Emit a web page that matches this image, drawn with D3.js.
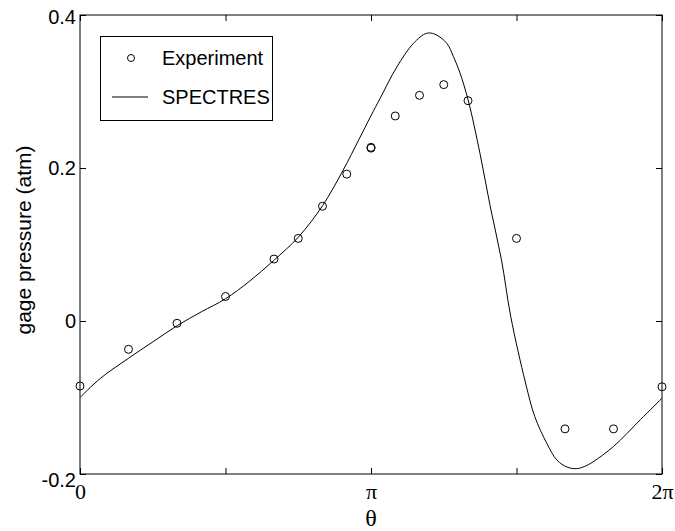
<!DOCTYPE html>
<html><head><meta charset="utf-8">
<script src="https://cdn.jsdelivr.net/npm/d3@7"></script>
<style>body{margin:0;background:#fff}svg{display:block}</style>
</head><body>
<svg id="c" width="675" height="531"></svg>
<script>
const PI = Math.PI;
// Experiment data (theta in radians, gage pressure in atm)
const expTheta = [0, PI/6, PI/3, PI/2, 2*PI/3, 3*PI/4, 5*PI/6, 11*PI/12, PI, PI, 13*PI/12, 7*PI/6, 5*PI/4, 4*PI/3, 3*PI/2, 5*PI/3, 11*PI/6, 2*PI];
const expPressure = [-0.085, -0.037, -0.003, 0.032, 0.081, 0.108, 0.150, 0.192, 0.226, 0.227, 0.268, 0.295, 0.309, 0.288, 0.108, -0.141, -0.141, -0.086];
// SPECTRES curve
const simTheta = [0, 0.22, 0.52, 0.79, 1.05, 1.31, 1.57, 1.83, 2.09, 2.36, 2.62, 2.84, 3.01, 3.14, 3.24, 3.42, 3.60, 3.74, 3.83, 3.96, 4.03, 4.10, 4.19, 4.32, 4.43, 4.55, 4.65, 4.81, 4.91, 5.04, 5.15, 5.26, 5.36, 5.45, 5.54, 5.76, 6.05, 6.283];
const simPressure = [-0.100, -0.075, -0.049, -0.027, -0.006, 0.012, 0.029, 0.052, 0.079, 0.110, 0.151, 0.197, 0.237, 0.268, 0.291, 0.332, 0.363, 0.376, 0.375, 0.363, 0.346, 0.325, 0.289, 0.218, 0.149, 0.080, 0.006, -0.081, -0.125, -0.160, -0.182, -0.191, -0.193, -0.190, -0.184, -0.164, -0.129, -0.101];
const xTicks = [0, PI/2, PI, 3*PI/2, 2*PI];
const xTickLabels = ["0", "", "π", "", "2π"];
const yTicks = [-0.2, 0, 0.2, 0.4];
const yTickLabels = ["-0.2", "0", "0.2", "0.4"];
const legendLabels = ["Experiment", "SPECTRES"];

const svg = d3.select("#c");
const L = 80, R = 662, T = 15, B = 474;
const x = d3.scaleLinear().domain([0, 2*PI]).range([L, R]);
const y = d3.scaleLinear().domain([-0.2, 0.4]).range([B, T]);
const SANS = "Arial, 'Liberation Sans', sans-serif";
const SERIF = "'Times New Roman', 'Liberation Serif', serif";

// frame
svg.append("rect").attr("x", L).attr("y", T).attr("width", R-L).attr("height", B-T)
  .attr("fill", "none").attr("stroke", "#000").attr("stroke-width", 1);

const tl = 6;
// bottom axis
const gB = svg.append("g").attr("transform", `translate(0,${B})`)
  .call(d3.axisBottom(x).tickValues(xTicks).tickSize(-tl).tickPadding(9).tickFormat((d,i)=>xTickLabels[i]));
gB.select(".domain").remove();
gB.selectAll("text").attr("font-family", SERIF).attr("font-size", 22).attr("fill","#000");
gB.selectAll("line").attr("stroke","#000");
// top axis
const gT = svg.append("g").attr("transform", `translate(0,${T})`)
  .call(d3.axisTop(x).tickValues(xTicks).tickSize(-tl).tickFormat(""));
gT.select(".domain").remove();
gT.selectAll("line").attr("stroke","#000");
// left axis
const gL = svg.append("g").attr("transform", `translate(${L},0)`)
  .call(d3.axisLeft(y).tickValues(yTicks).tickSize(-tl).tickPadding(4).tickFormat((d,i)=>yTickLabels[i]));
gL.select(".domain").remove();
gL.selectAll("text").attr("font-family", SANS).attr("font-size", 20).attr("fill","#000");
gL.selectAll("line").attr("stroke","#000");
gL.selectAll(".tick").filter(d => d === -0.2).select("text").attr("dy", "0.6em");
gL.selectAll(".tick").filter(d => d === 0.4).select("text").attr("dy", "0.4em");
// right axis
const gR = svg.append("g").attr("transform", `translate(${R},0)`)
  .call(d3.axisRight(y).tickValues(yTicks).tickSize(-tl).tickFormat(""));
gR.select(".domain").remove();
gR.selectAll("line").attr("stroke","#000");

// axis titles
svg.append("text").attr("x", (L+R)/2).attr("y", 526).attr("text-anchor","middle")
  .attr("font-family", SERIF).attr("font-size", 24).text("θ");
svg.append("text").attr("transform", `translate(31,${240}) rotate(-90)`).attr("text-anchor","middle")
  .attr("font-family", SANS).attr("font-size", 21).text("gage pressure (atm)");

// curve
const line = d3.line().x(d => x(d[0])).y(d => y(d[1])).curve(d3.curveCatmullRom);
svg.append("path").datum(simTheta.map((t,i)=>[t, simPressure[i]]))
  .attr("d", line).attr("fill","none").attr("stroke","#000").attr("stroke-width",1);

// experiment circles
svg.append("g").selectAll("circle").data(expTheta.map((t,i)=>[t, expPressure[i]])).join("circle")
  .attr("cx", d => x(d[0])).attr("cy", d => y(d[1])).attr("r", 4)
  .attr("fill","none").attr("stroke","#000").attr("stroke-width",1);

// legend
const lg = svg.append("g");
lg.append("rect").attr("x", 100.5).attr("y", 36.5).attr("width", 172).attr("height", 84)
  .attr("fill","#fff").attr("stroke","#000").attr("stroke-width",1);
lg.append("circle").attr("cx", 131).attr("cy", 58).attr("r", 3.5).attr("fill","none").attr("stroke","#000");
lg.append("line").attr("x1", 112).attr("x2", 148).attr("y1", 97).attr("y2", 97).attr("stroke","#000");
lg.selectAll("text.lt").data(legendLabels).join("text").attr("class","lt")
  .attr("x", 162).attr("y", (d,i)=> i===0 ? 65 : 104)
  .attr("font-family", SANS).attr("font-size", 20).text(d=>d);
</script>
</body></html>
